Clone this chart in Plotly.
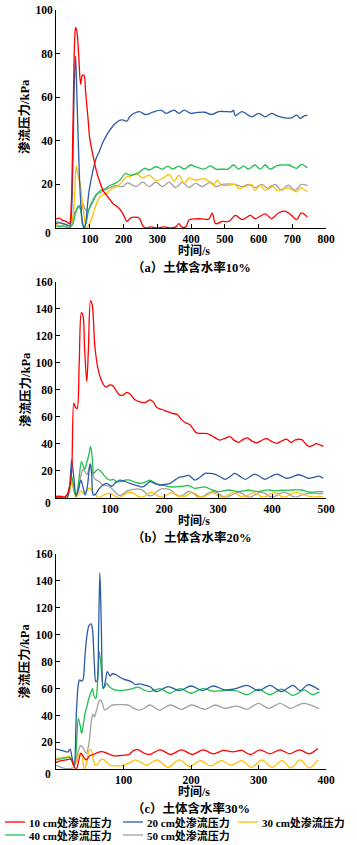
import plotly.graph_objects as go

W, H = 357, 845

# ---------------- Panel (a): soil water content 10% ----------------
a_t_red = [0, 10, 20, 30, 40, 45, 50, 55, 58, 62, 67, 73, 78, 83, 88, 95, 100, 110, 120, 130, 140, 150, 160, 170, 180, 190, 200, 210, 220, 232, 247, 257, 266, 280, 300, 320, 340, 355, 364, 372, 385, 394, 413, 433, 452, 463, 473, 493, 512, 532, 551, 576, 590, 620, 639, 659, 678, 698, 713, 727, 745]
a_red = [4, 4.5, 3.5, 3, 2, 10, 45, 85, 92, 90, 80, 66, 70, 70, 62, 50, 41, 33, 26, 21, 17, 15, 13, 11, 10, 8.5, 6, 3, 4.5, 5, 4.5, 1, 0, 0.5, 0, 0.5, 0, 0.5, 2, 0.5, 0.5, 3.7, 4.2, 4.2, 4, 6.8, 2, 3, 3, 5.8, 3.8, 5.8, 4.3, 6.5, 4.3, 6.9, 7.7, 5.8, 3.8, 6.9, 5]

a_t_blue = [0, 10, 20, 30, 40, 45, 50, 54, 58, 62, 67, 72, 78, 83, 88, 93, 98, 105, 112, 119, 128, 138, 148, 160, 170, 180, 190, 200, 210, 218, 230, 247, 266, 286, 311, 326, 350, 364, 380, 399, 420, 440, 462, 482, 500, 521, 526, 531, 551, 580, 600, 620, 639, 654, 678, 698, 713, 723, 737, 745]
a_blue = [2, 2.5, 2, 1.5, 1, 5, 30, 65, 79, 60, 35, 15, 3, 0, 2, 10, 17, 23, 28, 32, 35, 39, 42, 45, 47, 48.5, 49.5, 49.5, 49, 51, 52.5, 53.4, 52, 53.1, 54.1, 52.6, 54.1, 52.6, 54.1, 52.6, 53, 53.1, 52.1, 53.4, 53.4, 53.4, 54, 51.5, 53.4, 51, 52.6, 51, 52.6, 51.5, 50.5, 50.5, 51.8, 50.3, 51.5, 51.7]

a_t_yellow = [0, 10, 20, 30, 40, 50, 55, 60, 65, 72, 78, 84, 90, 96, 105, 115, 125, 135, 150, 165, 180, 195, 210, 218, 237, 257, 276, 296, 316, 335, 350, 364, 380, 394, 413, 440, 467, 477, 492, 512, 531, 541, 556, 580, 590, 605, 620, 639, 654, 688, 713, 723, 732, 745]
a_yellow = [2, 1, 1, 0.5, 0, 5, 15, 28.5, 24, 20, 12, 5, 0, 1, 4, 9, 13, 15, 16, 18, 19, 21, 23.5, 23.5, 25, 23, 24.3, 21.9, 22.6, 24.6, 21.5, 24.3, 20.4, 23, 21.9, 22.6, 19.9, 21.9, 19.6, 19.6, 19.9, 18.1, 18.8, 19.9, 17.3, 19.6, 17.3, 19.6, 17.3, 18.4, 16.6, 18.4, 18.1, 16.6]

a_t_green = [0, 10, 20, 30, 40, 50, 55, 60, 66, 72, 78, 83, 90, 98, 110, 120, 130, 145, 160, 175, 190, 205, 218, 232, 247, 262, 276, 296, 316, 331, 345, 364, 380, 399, 413, 438, 458, 473, 490, 510, 526, 541, 556, 570, 590, 605, 620, 634, 654, 670, 690, 713, 727, 745]
a_green = [1, 0.5, 1, 0.5, 0, 2, 5, 8, 10, 9, 2, 0, 3, 9, 13, 15.5, 17, 18, 19.5, 20.5, 22, 25, 24.3, 24.5, 25.5, 27.4, 26.6, 28.1, 27, 28.4, 27, 28.4, 27, 28.9, 28.1, 27, 28.5, 27, 27, 27, 28.9, 27, 28.5, 27, 28.9, 27, 28.9, 27, 28.5, 28.9, 28.9, 27.4, 29.2, 27.6]

a_t_gray = [0, 10, 20, 30, 40, 50, 55, 60, 65, 70, 75, 80, 85, 90, 95, 100, 110, 120, 130, 145, 160, 175, 198, 210, 218, 237, 257, 276, 296, 316, 335, 355, 374, 394, 413, 433, 458, 473, 492, 531, 551, 570, 590, 610, 629, 649, 668, 688, 708, 727, 745]
a_gray = [3, 2.5, 2, 1.5, 1, 3, 7, 8, 9, 10.5, 8, 11, 9, 8, 8, 9, 12, 15, 16, 17.5, 18.5, 19.5, 19, 20.6, 20.5, 19, 21, 19, 21, 19, 21, 18.5, 21, 18.5, 20.5, 19, 21, 19, 20, 20, 19, 20, 18.5, 20, 18, 20, 17.3, 19.6, 17.3, 20, 19.4]

# ---------------- Panel (b): soil water content 20% ----------------
b_t_red = [0, 10, 15, 20, 25, 29, 33, 36, 39, 43, 47, 50, 53, 57, 60, 64, 67, 72, 78, 85, 92, 100, 105, 112, 118, 124, 131, 138, 145, 155, 165, 174, 180, 186, 195, 205, 215, 225, 232, 240, 248, 254, 260, 270, 280, 290, 303, 313, 322, 330, 338, 346, 354, 363, 372, 381, 390, 400, 409, 418, 427, 435, 443, 455, 462, 468, 475, 482, 490, 495]
b_red = [1, 1, 0.5, 2, 8, 20, 70, 67, 66, 100, 137, 135, 110, 86, 110, 146, 143, 112, 95, 86, 82, 83.5, 83, 79, 76, 76, 78, 76.5, 73, 71, 70.5, 72.5, 71, 67, 65.5, 64, 62.5, 61.5, 58, 55.5, 54, 51, 48, 47.7, 47.5, 45.5, 42.7, 44, 45.2, 42.5, 41, 43, 44.3, 42, 40.7, 42.5, 43.8, 41.5, 40.3, 42, 43.4, 41, 42.8, 43, 40, 38, 38.5, 40, 39, 38]

b_t_blue = [0, 10, 20, 25, 29, 33, 37, 41, 46, 50, 54, 58, 63, 66, 69, 74, 78, 86, 94, 103, 110, 118, 128, 137, 150, 161, 168, 174, 183, 192, 200, 211, 220, 228, 236, 246, 257, 266, 276, 285, 294, 304, 313, 322, 331, 340, 350, 359, 368, 378, 387, 397, 408, 418, 427, 438, 449, 458, 467, 477, 486, 495]
b_blue = [0, 0, 0, 8, 28, 15, 2, 5, 13, 8, 2, 8, 25, 18, 2, 3, 5.7, 9, 10.6, 8.5, 11, 13, 12, 10.6, 9, 8, 10, 12, 10.5, 9.4, 9.8, 10.6, 13, 15, 15.6, 16.5, 13, 15, 18, 18, 17.5, 15.5, 13.6, 15.5, 18, 16, 13.6, 15.5, 17.5, 15.5, 13.6, 15.5, 17.5, 16, 14.4, 15.5, 17, 16, 14.4, 15, 16, 14.4]

b_t_yellow = [0, 10, 20, 25, 29, 33, 37, 42, 47, 52, 56, 61, 65, 70, 75, 80, 88, 95, 102, 110, 117, 125, 135, 145, 152, 160, 168, 175, 183, 190, 198, 205, 212, 220, 228, 235, 243, 250, 258, 265, 272, 280, 288, 295, 302, 310, 318, 326, 334, 341, 348, 356, 364, 372, 379, 386, 394, 402, 410, 417, 424, 432, 440, 450, 460, 470, 480, 488, 495]
b_yellow = [0, 0, 0, 5, 13, 5, 0, 3, 5, 3, 5, 7, 6.5, 3, 1.5, 0, 2, 3, 3, 1, 0, 2, 4, 3, 1, 0.5, 2, 4, 3, 1, 0.5, 2, 3.5, 3, 1, 0.5, 2, 3.5, 3, 1, 0.5, 2, 3.5, 3, 1, 0.5, 2, 3.5, 3, 1, 0.5, 2, 3.5, 3, 1, 0.5, 2, 3.5, 3, 1, 0.5, 2, 3.5, 3.5, 2, 1, 0.5, 1, 0.5]

b_t_green = [0, 10, 20, 25, 29, 33, 37, 42, 47, 50, 53, 57, 61, 64, 67, 70, 74, 78, 82, 88, 94, 100, 106, 113, 120, 128, 137, 146, 156, 165, 174, 183, 193, 202, 211, 222, 236, 246, 257, 266, 276, 288, 300, 310, 320, 330, 338, 347, 356, 365, 375, 385, 395, 405, 415, 425, 440, 455, 465, 475, 485, 495]
b_green = [0, 0, 0, 6, 16, 8, 1, 12, 26.7, 24, 21, 26, 32, 38, 30, 18, 20, 21, 20, 17, 14.4, 13, 13.5, 11.8, 12, 13, 13, 11.5, 10.6, 11.5, 13, 11, 9.4, 9, 8, 8, 8.6, 9, 6.9, 7.5, 8, 6, 4.5, 5, 5.7, 5, 4.5, 5, 5.7, 5, 4.5, 5.5, 5.7, 5, 5.5, 5.5, 5.7, 5.7, 4.5, 4, 4.5, 4.5]

b_t_gray = [0, 10, 20, 25, 29, 33, 37, 42, 47, 50, 54, 57, 60, 64, 67, 70, 75, 80, 87, 94, 100, 105, 110, 118, 125, 132, 140, 150, 158, 165, 172, 180, 188, 196, 205, 215, 222, 228, 236, 245, 252, 258, 264, 272, 280, 290, 300, 308, 316, 325, 335, 345, 352, 360, 368, 378, 388, 395, 402, 410, 420, 430, 438, 445, 455, 465, 475, 485, 495]
b_gray = [0, 0, 0, 5, 12, 6, 1, 8, 18, 21, 19, 17, 20, 25, 20, 15, 13, 12, 9.4, 9, 8, 6, 4, 1.5, 3, 5, 6, 6.5, 6, 4, 1.5, 2, 5, 6.5, 6.5, 5, 2, 1, 2, 4.5, 4, 2, 0.5, 1, 3, 4.5, 3.5, 1, 0.5, 2, 4, 3, 1, 0.5, 2, 4, 3, 1, 0.5, 2, 4, 3, 1, 0.5, 2, 3, 3.5, 3, 3]

# ---------------- Panel (c): soil water content 30% ----------------
c_t_red = [0, 5, 10, 15, 20, 23, 26, 30, 33, 37, 41, 45, 50, 55, 60, 65, 70, 75, 80, 85, 90, 100, 108, 115, 122, 130, 139, 154, 170, 186, 202, 218, 233, 248, 262, 275, 288, 302, 317, 332, 346, 361, 375, 388]
c_red = [5, 6, 6.5, 7, 7.5, 7, 3, 0, 5, 12, 9, 7, 10, 11, 12, 13, 13, 12, 11, 10, 10, 10.5, 11, 14, 14.5, 12, 11, 14.5, 11, 14.5, 11, 14.5, 11.5, 14, 13, 14, 11, 14.5, 11.5, 14.5, 11.5, 14.5, 11.5, 15.5]

c_t_blue = [0, 5, 10, 15, 18, 21, 24, 27, 30, 33, 35, 38, 40, 43, 46, 49, 52, 54, 57, 59, 61, 63, 65, 67, 70, 73, 76, 80, 84, 88, 95, 100, 110, 118, 124, 132, 139, 149, 166, 183, 200, 217, 233, 250, 266, 283, 300, 317, 334, 351, 362, 373, 390]
c_blue = [15, 14.5, 13.8, 13, 13, 15, 8, 3, 40, 63, 66.5, 65.5, 66.5, 85, 100, 107, 108, 104, 76, 65, 66, 100, 146, 110, 60, 65, 72.6, 69.5, 71, 70.5, 68.3, 67, 65.5, 63, 63.5, 62.5, 61.5, 57.7, 61.4, 58.5, 61.9, 58.5, 61.9, 59, 60, 62.4, 58.5, 62.4, 57.7, 62.4, 58.5, 62.8, 59]

c_t_yellow = [0, 5, 10, 15, 20, 24, 27, 30, 35, 38, 42, 45, 49, 52, 55, 58, 62, 66, 70, 75, 80, 90, 100, 110, 118, 126, 134, 150, 166, 183, 198, 214, 229, 245, 260, 275, 290, 305, 320, 335, 348, 362, 375, 388]
c_yellow = [8, 8.5, 9, 9, 9.5, 5, 2, 5, 12, 11, 0, 4, 14, 14.5, 8, 3, 4, 7, 7.5, 5, 3, 2.5, 3, 5, 7, 5, 3, 7, 1.5, 7, 2, 6.5, 2.5, 6.5, 3, 6.5, 1.5, 7, 1.5, 6.5, 1, 7, 1, 7]

c_t_green = [0, 5, 10, 15, 20, 23, 27, 30, 33, 36, 38, 41, 43, 46, 48, 51, 54, 56, 59, 61, 64, 67, 70, 73, 75, 80, 85, 95, 105, 113, 122, 130, 139, 154, 168, 184, 200, 217, 233, 250, 266, 283, 300, 317, 334, 351, 368, 380, 390]
c_green = [7, 7.5, 8, 8.5, 9, 7, 3, 15, 37.8, 32, 26.7, 35, 41.6, 47, 51.5, 56, 60, 55, 52.6, 60, 87.5, 75, 60, 62, 63.9, 61, 59.4, 58.5, 59, 60, 61, 59, 57.7, 60, 56.5, 60, 56.5, 60, 58, 58.5, 58.5, 55.5, 59.5, 55.5, 59.5, 55, 59, 55.5, 57.5]

c_t_gray = [0, 5, 10, 15, 20, 25, 28, 32, 36.5, 40, 45, 49, 53, 55, 57, 60, 65, 68, 72, 76, 82, 90, 100, 108, 115, 122, 130, 139, 154, 169, 186, 201, 221, 236, 250, 268, 283, 300, 315, 332, 347, 366, 390]
c_gray = [3, 2, 1, 0.5, 0.5, 1, 3, 12, 17.5, 16, 11.8, 20, 38, 41, 39, 44, 51.5, 50, 44, 45, 47.5, 48, 48, 47.5, 45.5, 44, 45, 47.8, 44, 47.8, 44.6, 47.8, 44.6, 47.8, 45.3, 47, 44.6, 49, 45.3, 49, 45.3, 49, 45]

series_names = ["10 cm处渗流压力", "20 cm处渗流压力", "30 cm处渗流压力",
                "40 cm处渗流压力", "50 cm处渗流压力"]
series_colors = ["#FF0000", "#2B5BA6", "#FFC000", "#1FBF4F", "#A0A0A0"]

x_tick_a = [100, 200, 300, 400, 500, 600, 700, 800]
x_tick_b = [100, 200, 300, 400, 500]
x_tick_c = [100, 200, 300, 400]
y_tick_a = [20, 40, 60, 80, 100]
y_tick_bc = [20, 40, 60, 80, 100, 120, 140, 160]

panel_titles = ["（a）土体含水率10%", "（b）土体含水率20%", "（c）土体含水率30%"]
x_title = "时间/s"
y_title = "渗流压力/kPa"

FONT = "Liberation Serif, 'Noto Sans CJK SC', serif"

panels = [
    ([a_t_red, a_t_blue, a_t_yellow, a_t_green, a_t_gray],
     [a_red, a_blue, a_yellow, a_green, a_gray], "x", "y"),
    ([b_t_red, b_t_blue, b_t_yellow, b_t_green, b_t_gray],
     [b_red, b_blue, b_yellow, b_green, b_gray], "x2", "y2"),
    ([c_t_red, c_t_blue, c_t_yellow, c_t_green, c_t_gray],
     [c_red, c_blue, c_yellow, c_green, c_gray], "x3", "y3"),
]

fig = go.Figure()
draw_order = [4, 2, 3, 1, 0]
for ts, vs, xa, ya in panels:
    for i in draw_order:
        fig.add_trace(go.Scatter(
            x=ts[i], y=vs[i], mode="lines", name=series_names[i],
            line=dict(color=series_colors[i], width=1.3, shape="spline", smoothing=0.9),
            xaxis=xa, yaxis=ya, showlegend=False, hoverinfo="skip"))


def py(p):
    return 1 - p / H


def px(p):
    return p / W


xdom = [px(56), px(326)]
axis_common = dict(showline=True, linecolor="black", linewidth=1, ticks="inside",
                   ticklen=4, tickcolor="black", tickwidth=1, showgrid=False,
                   zeroline=False, automargin=False,
                   tickfont=dict(family=FONT, size=11.5, color="black", weight="bold"))

fig.update_layout(
    width=W, height=H, margin=dict(l=0, r=0, t=0, b=0),
    paper_bgcolor="white", plot_bgcolor="white", showlegend=False,
    xaxis=dict(domain=xdom, range=[0, 800], tickvals=x_tick_a, anchor="y", **axis_common),
    yaxis=dict(domain=[py(228), py(10)], range=[0, 100], tickvals=y_tick_a, anchor="x", **axis_common),
    xaxis2=dict(domain=xdom, range=[0, 500], tickvals=x_tick_b, anchor="y2", **axis_common),
    yaxis2=dict(domain=[py(497.7), py(281.7)], range=[0, 160], tickvals=y_tick_bc, anchor="x2", **axis_common),
    xaxis3=dict(domain=xdom, range=[0, 400], tickvals=x_tick_c, anchor="y3", **axis_common),
    yaxis3=dict(domain=[py(769.3), py(554)], range=[0, 160], tickvals=y_tick_bc, anchor="x3", **axis_common),
)

tfont = dict(family=FONT, size=12.5, color="black", weight="bold")
xtfont = dict(family=FONT, size=12, color="black", weight="bold")
ann = []
ycenters = [117, 390, 661.6]
xtitle_y = [251, 521, 792]
caption_y = [267, 537, 808]
zero_y = [233, 503, 774]
for k in range(3):
    ann.append(dict(text=y_title, x=px(25), y=py(ycenters[k]), xref="paper", yref="paper",
                    textangle=-90, showarrow=False, font=tfont, xanchor="center", yanchor="middle"))
    ann.append(dict(text=x_title, x=px(194), y=py(xtitle_y[k]), xref="paper", yref="paper",
                    showarrow=False, font=xtfont, xanchor="center", yanchor="middle"))
    ann.append(dict(text=panel_titles[k], x=px(191), y=py(caption_y[k]), xref="paper", yref="paper",
                    showarrow=False, font=tfont, xanchor="center", yanchor="middle"))
    ann.append(dict(text="0", x=px(53), y=py(zero_y[k]), xref="paper", yref="paper",
                    showarrow=False, font=dict(family=FONT, size=11.5, color="black", weight="bold"),
                    xanchor="right", yanchor="middle"))

# manual legend (two rows)
leg_pos = [(5, 822), (123, 822), (238, 822), (5, 835), (123, 835)]
shapes = []
for i, (lx, ly) in enumerate(leg_pos):
    shapes.append(dict(type="line", xref="paper", yref="paper",
                       x0=px(lx), x1=px(lx + 20), y0=py(ly), y1=py(ly),
                       line=dict(color=series_colors[i], width=1.3)))
    ann.append(dict(text=series_names[i], x=px(lx + 22), y=py(ly), xref="paper", yref="paper",
                    showarrow=False, xanchor="left", yanchor="middle",
                    font=dict(family=FONT, size=11, color="black", weight="bold")))

fig.update_layout(annotations=ann, shapes=shapes)
fig.write_html("out.html", config={"displayModeBar": False},
               post_script="document.body.style.margin='0px';")
